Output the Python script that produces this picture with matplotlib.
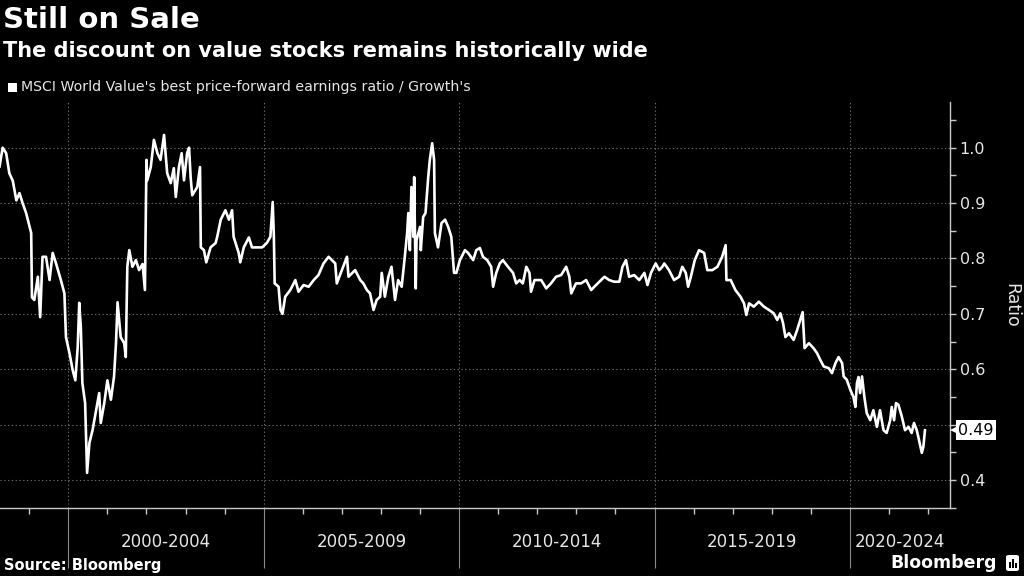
import matplotlib
matplotlib.use("Agg")
import matplotlib.pyplot as plt
import matplotlib.transforms as mtransforms
from matplotlib.patches import Rectangle, FancyBboxPatch
from matplotlib.ticker import FixedLocator, NullFormatter

# ---------------- data ----------------
years = [
    1998.24, 1998.32, 1998.41, 1998.49, 1998.58, 1998.67, 1998.75, 1998.83, 1998.92, 1999.05,
    1999.07, 1999.13, 1999.22, 1999.28, 1999.34, 1999.43, 1999.52, 1999.60, 1999.69, 1999.81,
    1999.90, 1999.94, 2000.03, 2000.11, 2000.18, 2000.24, 2000.28, 2000.32, 2000.36, 2000.43,
    2000.48, 2000.54, 2000.62, 2000.71, 2000.79, 2000.83, 2000.92, 2001.00, 2001.09, 2001.17,
    2001.22, 2001.26, 2001.34, 2001.43, 2001.47, 2001.51, 2001.56, 2001.64, 2001.73, 2001.81,
    2001.90, 2001.96, 2002.00, 2002.02, 2002.11, 2002.19, 2002.28, 2002.36, 2002.45, 2002.53,
    2002.62, 2002.70, 2002.75, 2002.83, 2002.90, 2002.96, 2003.04, 2003.09, 2003.13, 2003.17,
    2003.30, 2003.37, 2003.39, 2003.47, 2003.53, 2003.64, 2003.77, 2003.81, 2003.90, 2004.02,
    2004.11, 2004.19, 2004.23, 2004.36, 2004.40, 2004.49, 2004.62, 2004.70, 2004.83, 2004.96,
    2005.08, 2005.17, 2005.23, 2005.26, 2005.28, 2005.38, 2005.43, 2005.48, 2005.55, 2005.68,
    2005.81, 2005.89, 2006.02, 2006.15, 2006.28, 2006.40, 2006.53, 2006.66,
    2006.83, 2006.87, 2007.00, 2007.13, 2007.17, 2007.34, 2007.47, 2007.55, 2007.64, 2007.72,
    2007.81, 2007.89, 2007.98, 2008.02, 2008.10, 2008.19, 2008.27, 2008.36, 2008.44, 2008.53,
    2008.61, 2008.67, 2008.70, 2008.74, 2008.78, 2008.83, 2008.85, 2008.89, 2008.91, 2009.00,
    2009.02, 2009.08, 2009.14, 2009.21, 2009.25, 2009.31, 2009.36, 2009.38, 2009.46, 2009.55,
    2009.64, 2009.72, 2009.80, 2009.87, 2009.93, 2010.02, 2010.15, 2010.23, 2010.36, 2010.44,
    2010.53, 2010.61, 2010.72, 2010.82, 2010.87, 2010.95, 2011.04, 2011.12, 2011.25, 2011.38,
    2011.46, 2011.55, 2011.63, 2011.72, 2011.80, 2011.84, 2011.93, 2012.10, 2012.23, 2012.35,
    2012.48, 2012.61, 2012.74, 2012.82, 2012.87, 2012.99, 2013.12, 2013.25, 2013.38, 2013.46,
    2013.59, 2013.72, 2013.84, 2013.97, 2014.10, 2014.18, 2014.27, 2014.35, 2014.48, 2014.61,
    2014.74, 2014.82, 2014.91, 2015.03, 2015.12, 2015.20,
    2015.25, 2015.37, 2015.50, 2015.63, 2015.71, 2015.80, 2015.86, 2015.93, 2016.03, 2016.14,
    2016.27, 2016.35, 2016.48, 2016.61, 2016.73, 2016.82, 2016.84, 2016.95, 2017.07, 2017.20,
    2017.29, 2017.35, 2017.42, 2017.54, 2017.67, 2017.80, 2017.93, 2018.05, 2018.14, 2018.22,
    2018.29, 2018.35, 2018.44, 2018.56, 2018.65, 2018.73, 2018.79, 2018.84, 2018.95, 2019.07,
    2019.16, 2019.24, 2019.33, 2019.46, 2019.54, 2019.63, 2019.71, 2019.80, 2019.84, 2019.92,
    2020.01, 2020.09, 2020.14, 2020.18, 2020.22, 2020.26, 2020.31, 2020.37, 2020.43, 2020.52,
    2020.60, 2020.69, 2020.77, 2020.86, 2020.94, 2021.03, 2021.07, 2021.13, 2021.18, 2021.24,
    2021.33, 2021.41, 2021.50, 2021.58, 2021.64, 2021.71, 2021.75, 2021.84, 2021.88, 2021.92,
]
ratio = [
    0.966, 1.000, 0.990, 0.954, 0.940, 0.905, 0.918, 0.900, 0.882, 0.846,
    0.730, 0.725, 0.767, 0.694, 0.803, 0.803, 0.761, 0.810, 0.790, 0.761,
    0.737, 0.658, 0.629, 0.599, 0.580, 0.640, 0.720, 0.676, 0.575, 0.539,
    0.413, 0.467, 0.490, 0.526, 0.557, 0.503, 0.539, 0.580, 0.545, 0.587,
    0.647, 0.721, 0.658, 0.647, 0.622, 0.785, 0.815, 0.785, 0.797, 0.779,
    0.790, 0.743, 0.978, 0.941, 0.965, 1.014, 0.990, 0.978, 1.023, 0.954,
    0.936, 0.963, 0.911, 0.965, 0.990, 0.941, 0.990, 1.000, 0.947, 0.914,
    0.929, 0.965, 0.820, 0.815, 0.793, 0.820, 0.828, 0.839, 0.870, 0.887,
    0.870, 0.887, 0.839, 0.810, 0.793, 0.820, 0.838, 0.820, 0.820, 0.820,
    0.828, 0.839, 0.902, 0.839, 0.755, 0.749, 0.707, 0.700, 0.731, 0.743,
    0.761, 0.740, 0.752, 0.749, 0.761, 0.770, 0.791, 0.803,
    0.791, 0.755, 0.779, 0.803, 0.767, 0.779, 0.761, 0.755, 0.743, 0.737,
    0.707, 0.725, 0.731, 0.774, 0.731, 0.767, 0.785, 0.725, 0.761, 0.749,
    0.803, 0.846, 0.882, 0.815, 0.929, 0.839, 0.947, 0.746, 0.833, 0.857,
    0.815, 0.875, 0.882, 0.947, 0.978, 1.008, 0.978, 0.846, 0.820, 0.864,
    0.870, 0.857, 0.839, 0.774, 0.774, 0.797, 0.815, 0.810, 0.797, 0.815,
    0.819, 0.803, 0.797, 0.785, 0.749, 0.774, 0.791, 0.797, 0.785, 0.774,
    0.755, 0.761, 0.755, 0.785, 0.774, 0.740, 0.761, 0.761, 0.746, 0.755,
    0.767, 0.770, 0.785, 0.767, 0.737, 0.755, 0.755, 0.761, 0.743, 0.749,
    0.758, 0.767, 0.761, 0.758, 0.758, 0.785, 0.797, 0.767, 0.770, 0.761,
    0.774, 0.752, 0.774, 0.791, 0.779, 0.785,
    0.791, 0.779, 0.761, 0.767, 0.785, 0.774, 0.749, 0.767, 0.797, 0.815,
    0.810, 0.779, 0.779, 0.785, 0.803, 0.824, 0.761, 0.761, 0.743, 0.731,
    0.719, 0.698, 0.719, 0.713, 0.722, 0.713, 0.707, 0.701, 0.689, 0.701,
    0.683, 0.658, 0.665, 0.653, 0.671, 0.689, 0.703, 0.638, 0.647, 0.638,
    0.629, 0.617, 0.605, 0.602, 0.593, 0.611, 0.622, 0.611, 0.587, 0.581,
    0.563, 0.550, 0.532, 0.575, 0.586, 0.557, 0.587, 0.550, 0.521, 0.508,
    0.526, 0.496, 0.526, 0.490, 0.485, 0.508, 0.532, 0.508, 0.539, 0.536,
    0.514, 0.490, 0.496, 0.485, 0.503, 0.490, 0.478, 0.449, 0.460, 0.490,
]

y_ticks = [0.4, 0.5, 0.6, 0.7, 0.8, 0.9, 1.0]
# the 0.5 label sits behind the last-value tag in the reference
y_tick_labels = ["0.4", "", "0.6", "0.7", "0.8", "0.9", "1.0"]
y_minor_ticks = [0.35, 0.45, 0.55, 0.65, 0.75, 0.85, 0.95, 1.05]
year_ticks = list(range(1999, 2023))
period_starts = [2000, 2005, 2010, 2015, 2020]
period_labels = ["2000-2004", "2005-2009", "2010-2014", "2015-2019", "2020-2024"]
last_value = 0.49
last_label = "0.49"

title = "Still on Sale"
subtitle = "The discount on value stocks remains historically wide"
legend_label = "MSCI World Value's best price-forward earnings ratio / Growth's"
y_label = "Ratio"
source = "Source: Bloomberg"
brand = "Bloomberg"

# ---------------- figure ----------------
W, H = 1024, 576
fig = plt.figure(figsize=(W / 100, H / 100), dpi=100, facecolor="black")
plt.rcParams["font.family"] = ["DejaVu Sans"]

def fx(px):
    return px / W

def fy(py):
    return 1 - py / H

ax = fig.add_axes([0, fy(508.3), fx(950), fy(101.7) - fy(508.3)])
ax.set_facecolor("black")

XMIN, XMAX = 1998.252, 2022.561
ax.set_xlim(XMIN, XMAX)
ax.set_ylim(0.349, 1.083)

ax.plot(years, ratio, color="white", lw=1.9, solid_joinstyle="round", zorder=4)

for s in ["top", "left"]:
    ax.spines[s].set_visible(False)
for s in ["bottom", "right"]:
    ax.spines[s].set_color("#c8c8c8")
    ax.spines[s].set_linewidth(1.0)

# y axis on right
ax.yaxis.tick_right()
ax.set_yticks(y_ticks)
ax.set_yticklabels(y_tick_labels)
ax.yaxis.set_minor_locator(FixedLocator(y_minor_ticks))
ax.tick_params(axis="y", which="major", length=4, width=1, color="#c8c8c8",
               labelcolor="#e6e6e6", labelsize=11.5, pad=3)
ax.tick_params(axis="y", which="minor", length=4, width=1, color="#c8c8c8")

# x axis: long separators at period starts, short ticks each year
ax.xaxis.set_major_locator(FixedLocator(period_starts))
ax.xaxis.set_major_formatter(NullFormatter())
ax.xaxis.set_minor_locator(FixedLocator(year_ticks))
ax.tick_params(axis="x", which="major", length=43, width=0.8, color="#8a8a8a")
ax.tick_params(axis="x", which="minor", length=4, width=1, color="#c8c8c8")

ax.grid(True, which="major", axis="both", color="#6a6a6a", lw=0.8,
        linestyle=(0, (1.2, 2.2)))
ax.set_axisbelow(True)

# period labels centred on the visible part of each period
blend = mtransforms.blended_transform_factory(ax.transData, fig.transFigure)
for s, lab in zip(period_starts, period_labels):
    e = min(s + 5, XMAX)
    ax.text((s + e) / 2, fy(541.7), lab, transform=blend, ha="center", va="center",
            color="#e6e6e6", fontsize=12, clip_on=False)

# y label
fig.text(fx(1011), fy(305), y_label, rotation=270, ha="center", va="center",
         color="#e6e6e6", fontsize=12.5)

# last value tag: pointer triangle + white box
tag_tr = mtransforms.blended_transform_factory(ax.transAxes, ax.transData)
off2 = mtransforms.ScaledTranslation(6 / 100, 0, fig.dpi_scale_trans)
ax.plot([1.0], [last_value], marker="<", ms=8, color="white", mec="white", mew=0,
        transform=tag_tr + off2, clip_on=False, zorder=9)
off = mtransforms.ScaledTranslation(8 / 100, 0, fig.dpi_scale_trans)
ax.text(1.0, last_value, last_label, transform=tag_tr + off, ha="left", va="center",
        color="black", fontsize=11.5, zorder=10, clip_on=False,
        bbox=dict(boxstyle="square,pad=0.15", fc="white", ec="none"))

# titles
fig.text(fx(3), fy(28), title, ha="left", va="baseline", color="white",
         fontsize=21, fontweight="bold")
fig.text(fx(3), fy(57), subtitle, ha="left", va="baseline", color="white",
         fontsize=15, fontweight="bold")

# legend
fig.patches.append(Rectangle((fx(8), fy(92)), fx(9), fy(83) - fy(92), facecolor="white",
                             edgecolor="none", transform=fig.transFigure))
fig.text(fx(21), fy(91.5), legend_label, ha="left", va="baseline", color="#e6e6e6",
         fontsize=10.2)

# footer
fig.text(fx(4), fy(570), source, ha="left", va="baseline", color="white",
         fontsize=10.5, fontweight="bold")
fig.text(fx(997), fy(568), brand, ha="right", va="baseline", color="white",
         fontsize=12.5, fontweight="bold")
fig.patches.append(FancyBboxPatch((fx(1006), fy(571)), fx(13), fy(555) - fy(571),
                                  boxstyle="round,pad=0,rounding_size=0.003",
                                  facecolor="white", edgecolor="none",
                                  transform=fig.transFigure))
for i, h in enumerate([6, 9, 5]):
    fig.patches.append(Rectangle((fx(1009 + i * 3.2), fy(568)), fx(1.6), fy(568 - h) - fy(568),
                                 facecolor="black", edgecolor="none",
                                 transform=fig.transFigure))

fig.savefig("out.png", dpi=100, facecolor="black")
